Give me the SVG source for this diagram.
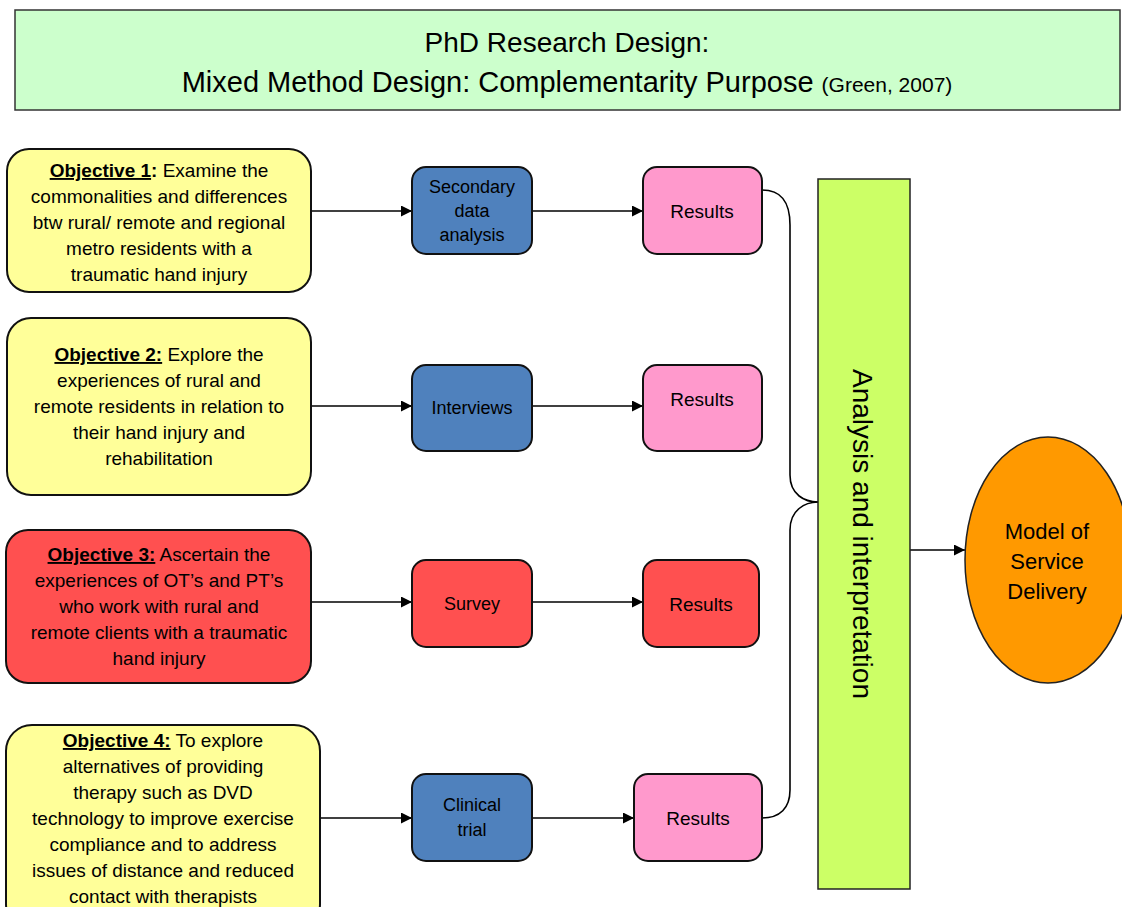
<svg xmlns="http://www.w3.org/2000/svg" width="1122" height="907" viewBox="0 0 1122 907">
<defs>
<marker id="arr" viewBox="0 0 10 10" refX="10" refY="5" markerWidth="11" markerHeight="11" markerUnits="userSpaceOnUse" orient="auto">
<path d="M0,0 L10,5 L0,10 z" fill="#000"/>
</marker>
</defs>
<style>
text{font-family:"Liberation Sans",Arial,sans-serif;fill:#000;text-anchor:middle}
.obj{font-size:19px}
.b{font-weight:bold;text-decoration:underline}
.box{stroke:#111;stroke-width:2}
.yel{fill:#ffff99}.red{fill:#ff5050}.blu{fill:#4f81bd}.pnk{fill:#ff99cc}
.sm{font-size:18px}
.res{font-size:19px}
.con{fill:none;stroke:#000;stroke-width:1.6}
</style>
<rect width="1122" height="907" fill="#fff"/>

<g id="title">
<rect x="15" y="10" width="1105" height="100" fill="#ccffcc" stroke="#333" stroke-width="1.5"/>
<text x="567" y="52" font-size="28">PhD Research Design:</text>
<text x="567" y="92" font-size="29">Mixed Method Design: Complementarity Purpose <tspan font-size="21">(Green, 2007)</tspan></text>
</g>

<g id="connectors">
<line class="con" x1="311" y1="211" x2="412" y2="211" marker-end="url(#arr)"/>
<line class="con" x1="532" y1="211" x2="643" y2="211" marker-end="url(#arr)"/>
<line class="con" x1="311" y1="406" x2="412" y2="406" marker-end="url(#arr)"/>
<line class="con" x1="532" y1="406" x2="643" y2="406" marker-end="url(#arr)"/>
<line class="con" x1="311" y1="602" x2="412" y2="602" marker-end="url(#arr)"/>
<line class="con" x1="532" y1="602" x2="643" y2="602" marker-end="url(#arr)"/>
<line class="con" x1="320" y1="818" x2="412" y2="818" marker-end="url(#arr)"/>
<line class="con" x1="532" y1="818" x2="634" y2="818" marker-end="url(#arr)"/>
<path class="con" d="M762,190 C780,190 790,200 790,225 L790,475 C790,495 805,502 818,502"/>
<path class="con" d="M818,502 C805,502 790,510 790,530 L790,790 C790,808 780,818 762,818"/>
<line class="con" x1="910" y1="550" x2="965" y2="550" marker-end="url(#arr)"/>
</g>

<g id="obj1">
<rect class="box yel" x="7" y="149" width="304" height="143" rx="22"/>
<text class="obj" x="159" y="177"><tspan class="b">Objective 1</tspan><tspan font-weight="bold">:</tspan> Examine the</text>
<text class="obj" x="159" y="203">commonalities and differences</text>
<text class="obj" x="159" y="229">btw rural/ remote and regional</text>
<text class="obj" x="159" y="255">metro residents with a</text>
<text class="obj" x="159" y="281">traumatic hand injury</text>
</g>

<g id="obj2">
<rect class="box yel" x="7" y="318" width="304" height="177" rx="24"/>
<text class="obj" x="159" y="361"><tspan class="b">Objective 2:</tspan> Explore the</text>
<text class="obj" x="159" y="387">experiences of rural and</text>
<text class="obj" x="159" y="413">remote residents in relation to</text>
<text class="obj" x="159" y="439">their hand injury and</text>
<text class="obj" x="159" y="465">rehabilitation</text>
</g>

<g id="obj3">
<rect class="box red" x="6" y="530" width="305" height="153" rx="22"/>
<text class="obj" x="159" y="561"><tspan class="b">Objective 3:</tspan> Ascertain the</text>
<text class="obj" x="159" y="587">experiences of OT’s and PT’s</text>
<text class="obj" x="159" y="613">who work with rural and</text>
<text class="obj" x="159" y="639">remote clients with a traumatic</text>
<text class="obj" x="159" y="665">hand injury</text>
</g>

<g id="obj4">
<rect class="box yel" x="6" y="725" width="314" height="205" rx="26"/>
<text class="obj" x="163" y="747"><tspan class="b">Objective 4:</tspan> To explore</text>
<text class="obj" x="163" y="773">alternatives of providing</text>
<text class="obj" x="163" y="799">therapy such as DVD</text>
<text class="obj" x="163" y="825">technology to improve exercise</text>
<text class="obj" x="163" y="851">compliance and to address</text>
<text class="obj" x="163" y="877">issues of distance and reduced</text>
<text class="obj" x="163" y="903">contact with therapists</text>
</g>

<g id="secondary">
<rect class="box blu" x="412" y="167" width="120" height="87" rx="14"/>
<text class="sm" x="472" y="193">Secondary</text>
<text class="sm" x="472" y="217">data</text>
<text class="sm" x="472" y="241">analysis</text>
</g>
<g id="interviews">
<rect class="box blu" x="412" y="365" width="120" height="86" rx="14"/>
<text class="sm" x="472" y="414">Interviews</text>
</g>
<g id="survey">
<rect class="box red" x="412" y="560" width="120" height="87" rx="14"/>
<text class="sm" x="472" y="610">Survey</text>
</g>
<g id="clinical">
<rect class="box blu" x="412" y="774" width="120" height="87" rx="14"/>
<text class="sm" x="472" y="811">Clinical</text>
<text class="sm" x="472" y="836">trial</text>
</g>

<g id="results1">
<rect class="box pnk" x="643" y="167" width="119" height="87" rx="14"/>
<text class="res" x="702" y="218">Results</text>
</g>
<g id="results2">
<rect class="box pnk" x="643" y="365" width="119" height="86" rx="14"/>
<text class="res" x="702" y="406">Results</text>
</g>
<g id="results3">
<rect class="box red" x="643" y="560" width="116" height="87" rx="14"/>
<text class="res" x="701" y="611">Results</text>
</g>
<g id="results4">
<rect class="box pnk" x="634" y="774" width="128" height="87" rx="14"/>
<text class="res" x="698" y="825">Results</text>
</g>

<g id="analysis">
<rect x="818" y="179" width="92" height="710" fill="#ccff66" stroke="#222" stroke-width="1.5"/>
<text font-size="28" transform="translate(853,534) rotate(90)" x="0" y="0">Analysis and interpretation</text>
</g>

<g id="model">
<ellipse cx="1048" cy="560" rx="83" ry="123" fill="#ff9900" stroke="#222" stroke-width="1.5"/>
<text font-size="22" x="1047" y="539">Model of</text>
<text font-size="22" x="1047" y="569">Service</text>
<text font-size="22" x="1047" y="599">Delivery</text>
</g>
</svg>
